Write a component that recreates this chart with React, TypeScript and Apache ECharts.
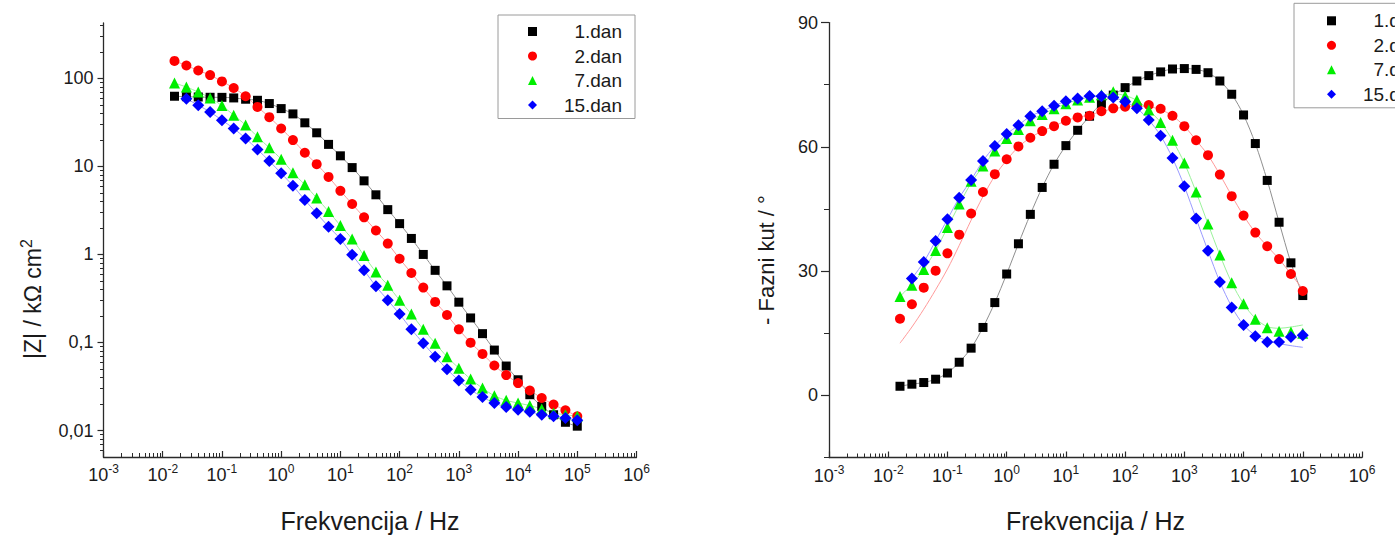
import React, { useEffect, useRef } from 'react';
import * as echarts from 'echarts';

// ---------------- data ----------------
// measurement frequencies (Hz), 5 points per decade
const freqHz = [
  0.0158, 0.0251, 0.0398, 0.0631, 0.1, 0.158, 0.251, 0.398, 0.631, 1,
  1.58, 2.51, 3.98, 6.31, 10, 15.8, 25.1, 39.8, 63.1, 100,
  158, 251, 398, 631, 1000, 1580, 2510, 3980, 6310, 10000,
  15800, 25100, 39800, 63100, 100000,
];

const seriesNames = ['1.dan', '2.dan', '7.dan', '15.dan'];

// |Z| / kΩ cm²
const mag1 = [
  62.7, 62, 61.5, 61, 60.9, 60, 58, 56.4, 51.8, 45.4,
  39.5, 31.3, 24.1, 17.8, 13.2, 9.7, 6.86, 4.76, 3.23, 2.24,
  1.52, 1.0, 0.66, 0.44, 0.287, 0.19, 0.126, 0.082, 0.054, 0.0377,
  0.0255, 0.0188, 0.0151, 0.0124, 0.0112,
];
const mag2 = [
  158, 140, 123, 109, 92.5, 77.8, 62.7, 47.4, 36.3, 27,
  19.9, 14.3, 10.6, 7.6, 5.28, 3.74, 2.64, 1.87, 1.33, 0.893,
  0.615, 0.42, 0.289, 0.205, 0.141, 0.0996, 0.0741, 0.0547, 0.0426, 0.0346,
  0.0285, 0.0234, 0.0197, 0.017, 0.0145,
];
const mag7 = [
  88.5, 79.8, 70, 60, 49.1, 38.2, 29.5, 21.7, 16.3, 12.1,
  8.5, 6.18, 4.37, 3.08, 2.13, 1.5, 0.97, 0.63, 0.447, 0.302,
  0.21, 0.141, 0.098, 0.069, 0.051, 0.0384, 0.0303, 0.0248, 0.022, 0.0205,
  0.0192, 0.0176, 0.0158, 0.0151, 0.0145,
];
const mag15 = [
  null, 58.9, 49.5, 41.6, 33.5, 27, 20.8, 15.6, 11.5, 8.37,
  6.03, 4.15, 2.93, 2.07, 1.5, 0.99, 0.66, 0.435, 0.302, 0.21,
  0.141, 0.098, 0.069, 0.0497, 0.037, 0.029, 0.024, 0.0205, 0.0185, 0.0172,
  0.0163, 0.0151, 0.0145, 0.0139, 0.0131,
];

// - phase angle / °
const phase1 = [
  2.2, 2.7, 3.1, 3.9, 5.4, 8.0, 11.4, 16.4, 22.4, 29.3,
  36.6, 43.7, 50.2, 55.8, 60.3, 64.0, 67.4, 70.5, 72.5, 74.3,
  75.9, 77.2, 78.1, 78.8, 78.9, 78.7, 77.9, 75.9, 72.7, 67.7,
  60.8, 51.9, 41.8, 32.0, 24.1,
];
const phase2 = [
  18.5, 22.0, 26.0, 30.1, 34.3, 38.8, 43.9, 49.1, 53.4, 57.0,
  60.1, 62.2, 63.8, 65.0, 66.3, 67.1, 67.5, 68.6, 69.3, 69.7,
  70.0, 70.1, 69.2, 67.5, 65.0, 61.6, 58.0, 53.3, 48.1, 43.4,
  39.3, 36.0, 32.9, 29.3, 25.2,
];
const phase7 = [
  23.9, 26.6, 30.4, 35.0, 40.5, 46.2, 51.7, 55.4, 59.0, 62.0,
  64.2, 66.3, 67.8, 69.2, 70.4, 71.3, 72.0, 72.6, 73.3, 72.3,
  71.3, 68.9, 65.9, 61.6, 56.1, 49.1, 41.4, 33.9, 27.2, 22.1,
  18.4, 16.3, 15.5, 15.3, 15.0,
];
const phase15 = [
  null, 28.2, 32.2, 37.3, 42.5, 47.7, 52.0, 56.6, 60.2, 63.1,
  65.2, 67.4, 68.6, 69.9, 71.0, 71.7, 72.3, 72.2, 71.9, 70.9,
  69.3, 66.5, 62.7, 57.3, 50.5, 42.7, 34.9, 27.4, 21.2, 17.0,
  14.3, 12.9, 12.9, 14.1, 14.5,
];

// fitted curves of the phase angle (drawn as thin lines)
const phaseFit1 = phase1;
const phaseFit2 = [
  12.6, 16.5, 20.8, 25.5, 30.5, 36.2, 42.3, 48.0, 53.0, 56.8,
  60.0, 62.2, 63.8, 65.0, 66.3, 67.1, 67.7, 68.5, 69.2, 69.6,
  69.8, 69.7, 69.0, 67.5, 65.0, 61.6, 58.0, 53.3, 48.2, 43.4,
  39.3, 36.0, 32.9, 29.3, 25.6,
];
const phaseFit7 = [
  23.9, 26.8, 30.4, 35.0, 40.5, 46.0, 51.3, 55.3, 58.9, 61.9,
  64.2, 66.3, 67.8, 69.2, 70.4, 71.3, 72.0, 72.5, 72.8, 72.4,
  71.2, 68.9, 65.9, 61.6, 56.1, 49.1, 41.4, 33.9, 27.2, 22.1,
  18.6, 16.6, 16.2, 16.5, 17.0,
];
const phaseFit15 = [
  null, 28.2, 32.2, 37.3, 42.5, 47.7, 52.0, 56.6, 60.2, 63.1,
  65.2, 67.4, 68.6, 69.9, 71.0, 71.7, 72.2, 72.2, 71.9, 70.9,
  69.3, 66.5, 62.7, 57.3, 50.5, 42.7, 34.9, 27.4, 21.4, 17.0,
  14.5, 13.2, 12.5, 12.0, 11.6,
];

// axis ranges and tick labels
const freqAxisMinExp = -3;
const freqAxisMaxExp = 6;
const magAxisMin = 0.005;
const magAxisMax = 426;
const magTickValues = [0.01, 0.1, 1, 10, 100];
const magTickLabels = ['0,01', '0,1', '1', '10', '100'];
const phaseAxisMin = -15;
const phaseAxisMax = 90;
const phaseTickValues = [0, 30, 60, 90];
const phaseMinorTickValues = [-15, 15, 45, 75];

// ---------------- styles ----------------
const FONT = '"Liberation Sans", Arial, Helvetica, sans-serif';
const TEXT = '#1a1a1a';
const AXIS = '#2a2a2a';
const markerColors = ['#000000', '#ff0000', '#00ee00', '#0000ff'];
const fitColors = ['#8f8f8f', '#ff9a9a', '#9af29a', '#9a9aff'];
const markerSymbols = ['rect', 'circle', 'triangle', 'diamond'];
const markerSizes = [9, 10, 11, 12];

const magSets = [mag1, mag2, mag7, mag15];
const phaseSets = [phase1, phase2, phase7, phase15];
const phaseFitSets = [phaseFit1, phaseFit2, phaseFit7, phaseFit15];

const lg = (v: number) => Math.log10(v);

function pairs(vals: (number | null)[], transform: (v: number) => number) {
  const out: number[][] = [];
  freqHz.forEach((f, i) => {
    const v = vals[i];
    if (v != null) out.push([lg(f), transform(v)]);
  });
  return out;
}

function minorLogTicks(minV: number, maxV: number) {
  const out: number[] = [];
  for (let n = -4; n <= 6; n++) {
    for (let k = 2; k <= 9; k++) {
      const v = k * Math.pow(10, n);
      if (v > minV * 1.0001 && v < maxV * 0.9999) out.push(lg(v));
    }
  }
  return out;
}

const supRich = (size: number, raise: number) => ({
  sup: { fontSize: size, fontFamily: FONT, color: TEXT, padding: [0, 0, raise, 0] },
});

function freqAxis(gridIndex: number) {
  return {
    type: 'value',
    gridIndex,
    min: freqAxisMinExp,
    max: freqAxisMaxExp,
    interval: 1,
    position: 'bottom',
    axisLine: { show: true, onZero: false, lineStyle: { color: AXIS, width: 1.3 } },
    axisTick: { show: true, inside: true, length: 6, lineStyle: { color: AXIS, width: 1.2 } },
    axisLabel: {
      margin: 6,
      fontSize: 18,
      fontFamily: FONT,
      color: TEXT,
      formatter: (v: number) => `10{sup|${Math.round(v)}}`,
      rich: supRich(12, 12),
    },
    splitLine: { show: false },
    name: 'Frekvencija / Hz',
    nameLocation: 'middle',
    nameGap: 51,
    nameTextStyle: { fontSize: 25, fontFamily: FONT, color: TEXT },
  };
}

function freqMinorAxis(gridIndex: number) {
  return {
    type: 'value',
    gridIndex,
    min: freqAxisMinExp,
    max: freqAxisMaxExp,
    position: 'bottom',
    axisLine: { show: false, onZero: false },
    axisTick: {
      show: true,
      inside: true,
      length: 4,
      customValues: minorLogTicks(Math.pow(10, freqAxisMinExp), Math.pow(10, freqAxisMaxExp)),
      lineStyle: { color: AXIS, width: 1 },
    },
    axisLabel: { show: false },
    splitLine: { show: false },
  };
}

export default function App() {
  const ref = useRef<HTMLDivElement>(null);

  useEffect(() => {
    if (!ref.current) return;
    const chart = echarts.init(ref.current, undefined, { renderer: 'svg' });

    const magMajor = magTickValues.map(lg);

    const series: any[] = [];
    for (let k = 0; k < 4; k++) {
      series.push({
        type: 'line',
        name: `${seriesNames[k]} fit |Z|`,
        xAxisIndex: 0,
        yAxisIndex: 0,
        data: pairs(magSets[k], lg),
        showSymbol: false,
        smooth: 0.3,
        lineStyle: { color: fitColors[k], width: 1 },
        z: 1,
        silent: true,
      });
      series.push({
        type: 'line',
        name: `${seriesNames[k]} fit phase`,
        xAxisIndex: 2,
        yAxisIndex: 2,
        data: pairs(phaseFitSets[k], (v) => v),
        showSymbol: false,
        smooth: 0.3,
        lineStyle: { color: fitColors[k], width: 1 },
        z: 1,
        silent: true,
      });
    }
    for (let k = 0; k < 4; k++) {
      series.push({
        type: 'scatter',
        name: seriesNames[k],
        xAxisIndex: 0,
        yAxisIndex: 0,
        data: pairs(magSets[k], lg),
        symbol: markerSymbols[k],
        symbolSize: markerSizes[k],
        itemStyle: { color: markerColors[k], opacity: 1 },
        z: 2 + k,
        silent: true,
      });
      series.push({
        type: 'scatter',
        name: seriesNames[k],
        xAxisIndex: 2,
        yAxisIndex: 2,
        data: pairs(phaseSets[k], (v) => v),
        symbol: markerSymbols[k],
        symbolSize: markerSizes[k],
        itemStyle: { color: markerColors[k], opacity: 1 },
        z: 2 + k,
        silent: true,
      });
    }

    const legendBase = (left: number, top: number, padding: number[]) => ({
      orient: 'vertical',
      left,
      top,
      padding,
      itemGap: 5.5,
      itemWidth: 9,
      itemHeight: 9,
      borderColor: '#9a9a9a',
      borderWidth: 1,
      selectedMode: false,
      data: seriesNames.map((n, i) => ({ name: n, icon: markerSymbols[i] })),
      formatter: (n: string) => `{a|${n}}`,
      textStyle: {
        rich: {
          a: { width: 80, align: 'right', fontSize: 19, fontFamily: FONT, color: TEXT },
        },
      },
    });

    chart.setOption({
      animation: false,
      backgroundColor: '#ffffff',
      textStyle: { fontFamily: FONT },
      grid: [
        { left: 103.5, top: 23, width: 533, height: 434, outerBoundsMode: 'none', containLabel: false },
        { left: 829, top: 22.6, width: 533, height: 434.9, outerBoundsMode: 'none', containLabel: false },
      ],
      legend: [legendBase(498, 15, [7, 13, 4, 30]), legendBase(1294, 3.3, [8, 13, 4, 33])],
      xAxis: [freqAxis(0), freqMinorAxis(0), freqAxis(1), freqMinorAxis(1)],
      yAxis: [
        {
          type: 'value',
          gridIndex: 0,
          min: lg(magAxisMin),
          max: lg(magAxisMax),
          position: 'left',
          axisLine: { show: true, onZero: false, lineStyle: { color: AXIS, width: 1.3 } },
          axisTick: { show: true, inside: false, length: 6, customValues: magMajor, lineStyle: { color: AXIS, width: 1.2 } },
          axisLabel: {
            customValues: magMajor,
            margin: 10,
            fontSize: 18,
            fontFamily: FONT,
            color: TEXT,
            formatter: (v: number) => {
              const idx = magMajor.findIndex((t) => Math.abs(t - v) < 1e-6);
              return idx >= 0 ? magTickLabels[idx] : '';
            },
          },
          splitLine: { show: false },
          name: '|Z| / kΩ cm{sup|2}',
          nameLocation: 'middle',
          nameGap: 56,
          nameTextStyle: {
            fontSize: 23,
            fontFamily: FONT,
            color: TEXT,
            padding: [0, 118, 0, 0],
            rich: supRich(16, 13),
          },
        },
        {
          type: 'value',
          gridIndex: 0,
          min: lg(magAxisMin),
          max: lg(magAxisMax),
          position: 'left',
          axisLine: { show: false, onZero: false },
          axisTick: {
            show: true,
            inside: false,
            length: 3.5,
            customValues: minorLogTicks(magAxisMin, magAxisMax),
            lineStyle: { color: AXIS, width: 1 },
          },
          axisLabel: { show: false },
          splitLine: { show: false },
        },
        {
          type: 'value',
          gridIndex: 1,
          min: phaseAxisMin,
          max: phaseAxisMax,
          position: 'left',
          axisLine: { show: true, onZero: false, lineStyle: { color: AXIS, width: 1.3 } },
          axisTick: { show: true, inside: false, length: 8, customValues: phaseTickValues, lineStyle: { color: AXIS, width: 1.2 } },
          axisLabel: { customValues: phaseTickValues, margin: 11, fontSize: 18, fontFamily: FONT, color: TEXT },
          splitLine: { show: false },
          name: '- Fazni kut / °',
          nameLocation: 'middle',
          nameGap: 52,
          nameTextStyle: { fontSize: 22, fontFamily: FONT, color: TEXT, padding: [0, 40, 0, 0] },
        },
        {
          type: 'value',
          gridIndex: 1,
          min: phaseAxisMin,
          max: phaseAxisMax,
          position: 'left',
          axisLine: { show: false, onZero: false },
          axisTick: { show: true, inside: false, length: 5, customValues: phaseMinorTickValues, lineStyle: { color: AXIS, width: 1 } },
          axisLabel: { show: false },
          splitLine: { show: false },
        },
      ],
      series,
    });

    return () => chart.dispose();
  }, []);

  return (
    <div
      ref={ref}
      style={{ position: 'fixed', left: 0, top: 0, width: 1395, height: 537, overflow: 'hidden', background: '#fff' }}
    />
  );
}
